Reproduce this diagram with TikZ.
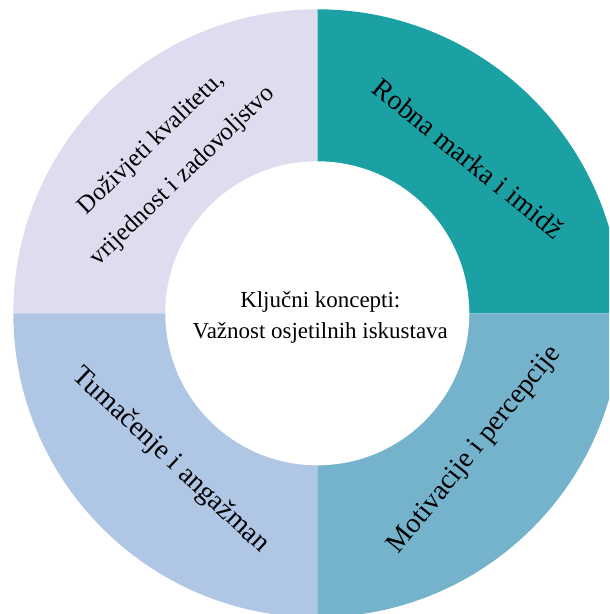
\documentclass[tikz,border=0pt]{standalone}
\usepackage{fontspec}
\setmainfont{Liberation Serif}

\definecolor{lilac}{RGB}{224,220,240}
\definecolor{teal}{RGB}{27,160,163}
\definecolor{pale}{RGB}{176,198,229}
\definecolor{sky}{RGB}{117,179,204}

\begin{document}
\begin{tikzpicture}[
  x=0.03cm, y=0.03cm,
  sector/.style={fill=#1, draw=none},
  ring/.style={font=\fontsize{23.9}{34}\selectfont, align=center, inner sep=0pt},
  pair/.style={font=\fontsize{21.3}{38.4}\selectfont, align=center, inner sep=0pt},
  core/.style={font=\fontsize{19.6}{26.5}\selectfont, align=center, inner sep=0pt}
]

\useasboundingbox (-317.3,-300.7) rectangle (291.7,313.3);
\clip (-317.3,-300.7) rectangle (291.7,313.3);

% quadrants of the ring
\fill[sector=teal]  (0,0) -- (0:304)   arc[start angle=0,   end angle=90,  radius=304] -- cycle;
\fill[sector=lilac] (0,0) -- (90:304)  arc[start angle=90,  end angle=180, radius=304] -- cycle;
\fill[sector=pale]  (0,0) -- (180:304) arc[start angle=180, end angle=270, radius=304] -- cycle;
\fill[sector=sky]   (0,0) -- (270:304) arc[start angle=270, end angle=360, radius=304] -- cycle;
\fill[white] (0,0) circle (152);

\node[pair, rotate=44]  (experience) at (-150,153) {Doživjeti kvalitetu,\\vrijednost i zadovoljstvo};
\node[ring, rotate=-39] (brand)      at (151,155)  {Robna marka i imidž};
\node[ring, rotate=-43] (engagement) at (-147,-147) {Tumačenje i angažman};
\node[ring, rotate=51]  (motives)    at (158,-137) {Motivacije i percepcije};

\node[core] (concepts) at (3,-4) {Ključni koncepti:\\Važnost osjetilnih iskustava};

\end{tikzpicture}
\end{document}
